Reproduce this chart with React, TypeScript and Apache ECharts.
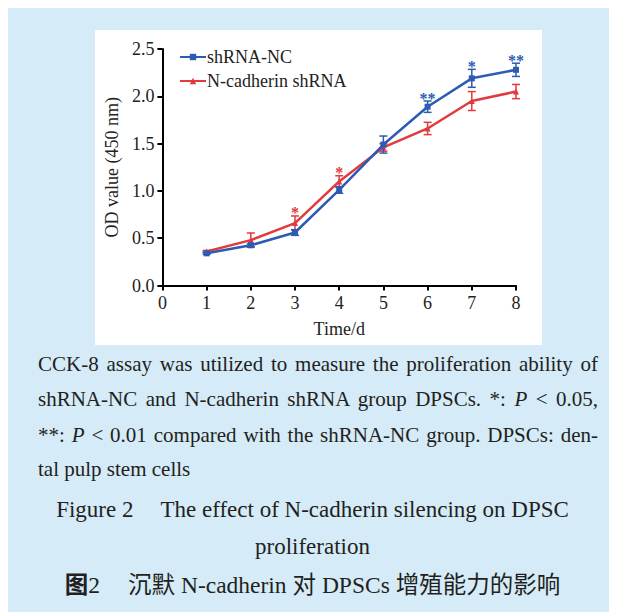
import React, { useEffect, useRef } from 'react';
import * as echarts from 'echarts';

const days = [1, 2, 3, 4, 5, 6, 7, 8];
const ncMean = [0.34, 0.425, 0.56, 1.01, 1.49, 1.89, 2.19, 2.28];
const ncErr = [0.01, 0.015, 0.03, 0.035, 0.09, 0.06, 0.095, 0.07];
const ncSig = ['', '', '', '', '', '**', '*', '**'];
const kdMean = [0.36, 0.48, 0.66, 1.1, 1.46, 1.66, 1.95, 2.05];
const kdErr = [0.01, 0.075, 0.075, 0.06, 0.04, 0.065, 0.1, 0.075];
const kdSig = ['', '', '*', '*', '', '', '', ''];
const seriesNames = ['shRNA-NC', 'N-cadherin shRNA'];

const BLUE = '#2c5bb3';
const RED = '#e13b3d';
const SERIF = '"Liberation Serif", "Times New Roman", serif';

function errSeries(name: string, mean: number[], err: number[], sig: string[], color: string) {
  return {
    type: 'custom',
    name: name + ' error',
    data: days.map((d, i) => [d, mean[i], err[i]]),
    encode: { x: 0, y: 1 },
    z: 3,
    renderItem: (params: any, api: any) => {
      const i = params.dataIndex;
      const x = api.value(0);
      const m = api.value(1);
      const e = api.value(2);
      const top = api.coord([x, m + e]);
      const bot = api.coord([x, m - e]);
      const cw = 4;
      const st = { stroke: color, lineWidth: 1.5 };
      const children: any[] = [
        { type: 'line', shape: { x1: top[0], y1: top[1], x2: bot[0], y2: bot[1] }, style: st },
        { type: 'line', shape: { x1: top[0] - cw, y1: top[1], x2: top[0] + cw, y2: top[1] }, style: st },
        { type: 'line', shape: { x1: bot[0] - cw, y1: bot[1], x2: bot[0] + cw, y2: bot[1] }, style: st },
      ];
      if (sig[i]) {
        children.push({
          type: 'text',
          style: {
            text: sig[i],
            x: top[0],
            y: top[1] - 3,
            align: 'center',
            verticalAlign: 'middle',
            fill: color,
            fontFamily: SERIF,
            fontSize: 16,
            fontWeight: 'bold',
          },
        });
      }
      return { type: 'group', children };
    },
  };
}

export default function App() {
  const ref = useRef<HTMLDivElement>(null);
  useEffect(() => {
    const chart = echarts.init(ref.current!, null, { renderer: 'svg' });
    const axisText = { fontFamily: SERIF, fontSize: 18, color: '#222' };
    chart.setOption({
      animation: false,
      grid: { left: 65, right: 26, top: 19, bottom: 59.5 },
      legend: {
        data: seriesNames,
        orient: 'vertical',
        left: 79,
        top: 13,
        itemWidth: 26,
        itemHeight: 8,
        itemGap: 6,
        textStyle: { fontFamily: SERIF, fontSize: 18, color: '#222', padding: [0, 0, 0, -4] },
      },
      xAxis: {
        type: 'value',
        min: 0,
        max: 8,
        interval: 1,
        name: 'Time/d',
        nameLocation: 'middle',
        nameGap: 34,
        nameTextStyle: axisText,
        axisLine: { lineStyle: { color: '#000', width: 2 } },
        axisTick: { length: 5, lineStyle: { color: '#000', width: 2 } },
        axisLabel: { ...axisText, margin: 8 },
        splitLine: { show: false },
      },
      yAxis: {
        type: 'value',
        min: 0,
        max: 2.5,
        interval: 0.5,
        name: 'OD value (450 nm)',
        nameLocation: 'middle',
        nameGap: 40,
        nameTextStyle: axisText,
        axisLine: { show: true, lineStyle: { color: '#000', width: 2 } },
        axisTick: { show: true, length: 5, lineStyle: { color: '#000', width: 2 } },
        axisLabel: { ...axisText, margin: 8, formatter: (v: number) => v.toFixed(1) },
        splitLine: { show: false },
      },
      series: [
        {
          type: 'line',
          name: seriesNames[1],
          data: days.map((d, i) => [d, kdMean[i]]),
          symbol: 'triangle',
          symbolSize: 6,
          itemStyle: { color: RED },
          lineStyle: { color: RED, width: 2.5 },
          z: 2,
        },
        errSeries(seriesNames[1], kdMean, kdErr, kdSig, RED),
        {
          type: 'line',
          name: seriesNames[0],
          data: days.map((d, i) => [d, ncMean[i]]),
          symbol: 'rect',
          symbolSize: 6,
          itemStyle: { color: BLUE },
          lineStyle: { color: BLUE, width: 2.5 },
          z: 4,
        },
        errSeries(seriesNames[0], ncMean, ncErr, ncSig, BLUE),
      ],
    });
    return () => chart.dispose();
  }, []);

  const body: React.CSSProperties = {
    position: 'absolute',
    left: 30,
    width: 560,
    fontSize: 21,
    lineHeight: '24px',
    whiteSpace: 'nowrap',
    textAlign: 'justify',
    textAlignLast: 'justify' as any,
  };
  const center: React.CSSProperties = {
    position: 'absolute',
    left: 0,
    width: 609,
    textAlign: 'center',
    whiteSpace: 'nowrap',
    lineHeight: '26px',
  };
  const cjk = '"Noto Sans CJK SC", sans-serif';

  return (
    <div
      style={{
        position: 'relative',
        width: 609,
        height: 604,
        background: '#d5ebf8',
        fontFamily: SERIF,
        color: '#231f20',
        overflow: 'hidden',
      }}
    >
      <div
        ref={ref}
        style={{ position: 'absolute', left: 87, top: 22, width: 447, height: 315, background: '#ffffff' }}
      />
      <div style={{ ...body, top: 344 }}>CCK-8 assay was utilized to measure the proliferation ability of</div>
      <div style={{ ...body, top: 379 }}>
        shRNA-NC and N-cadherin shRNA group DPSCs. *: <i>P</i> &lt; 0.05,
      </div>
      <div style={{ ...body, top: 415 }}>
        **: <i>P</i> &lt; 0.01 compared with the shRNA-NC group. DPSCs: den-
      </div>
      <div style={{ ...body, top: 449, textAlign: 'left', textAlignLast: 'left' as any }}>tal pulp stem cells</div>
      <div style={{ ...center, top: 489, fontSize: 23 }}>
        Figure 2<span style={{ display: 'inline-block', width: 27 }} />The effect of N-cadherin silencing on DPSC
      </div>
      <div style={{ ...center, top: 526, fontSize: 23 }}>proliferation</div>
      <div style={{ ...center, top: 562, fontSize: 23.5 }}>
        <span style={{ fontFamily: cjk, fontWeight: 'bold' }}>图</span>2
        <span style={{ display: 'inline-block', width: 28 }} />
        <span style={{ fontFamily: cjk }}>沉默</span> N-cadherin{' '}
        <span style={{ fontFamily: cjk }}>对</span> DPSCs{' '}
        <span style={{ fontFamily: cjk }}>增殖能力的影响</span>
      </div>
    </div>
  );
}
